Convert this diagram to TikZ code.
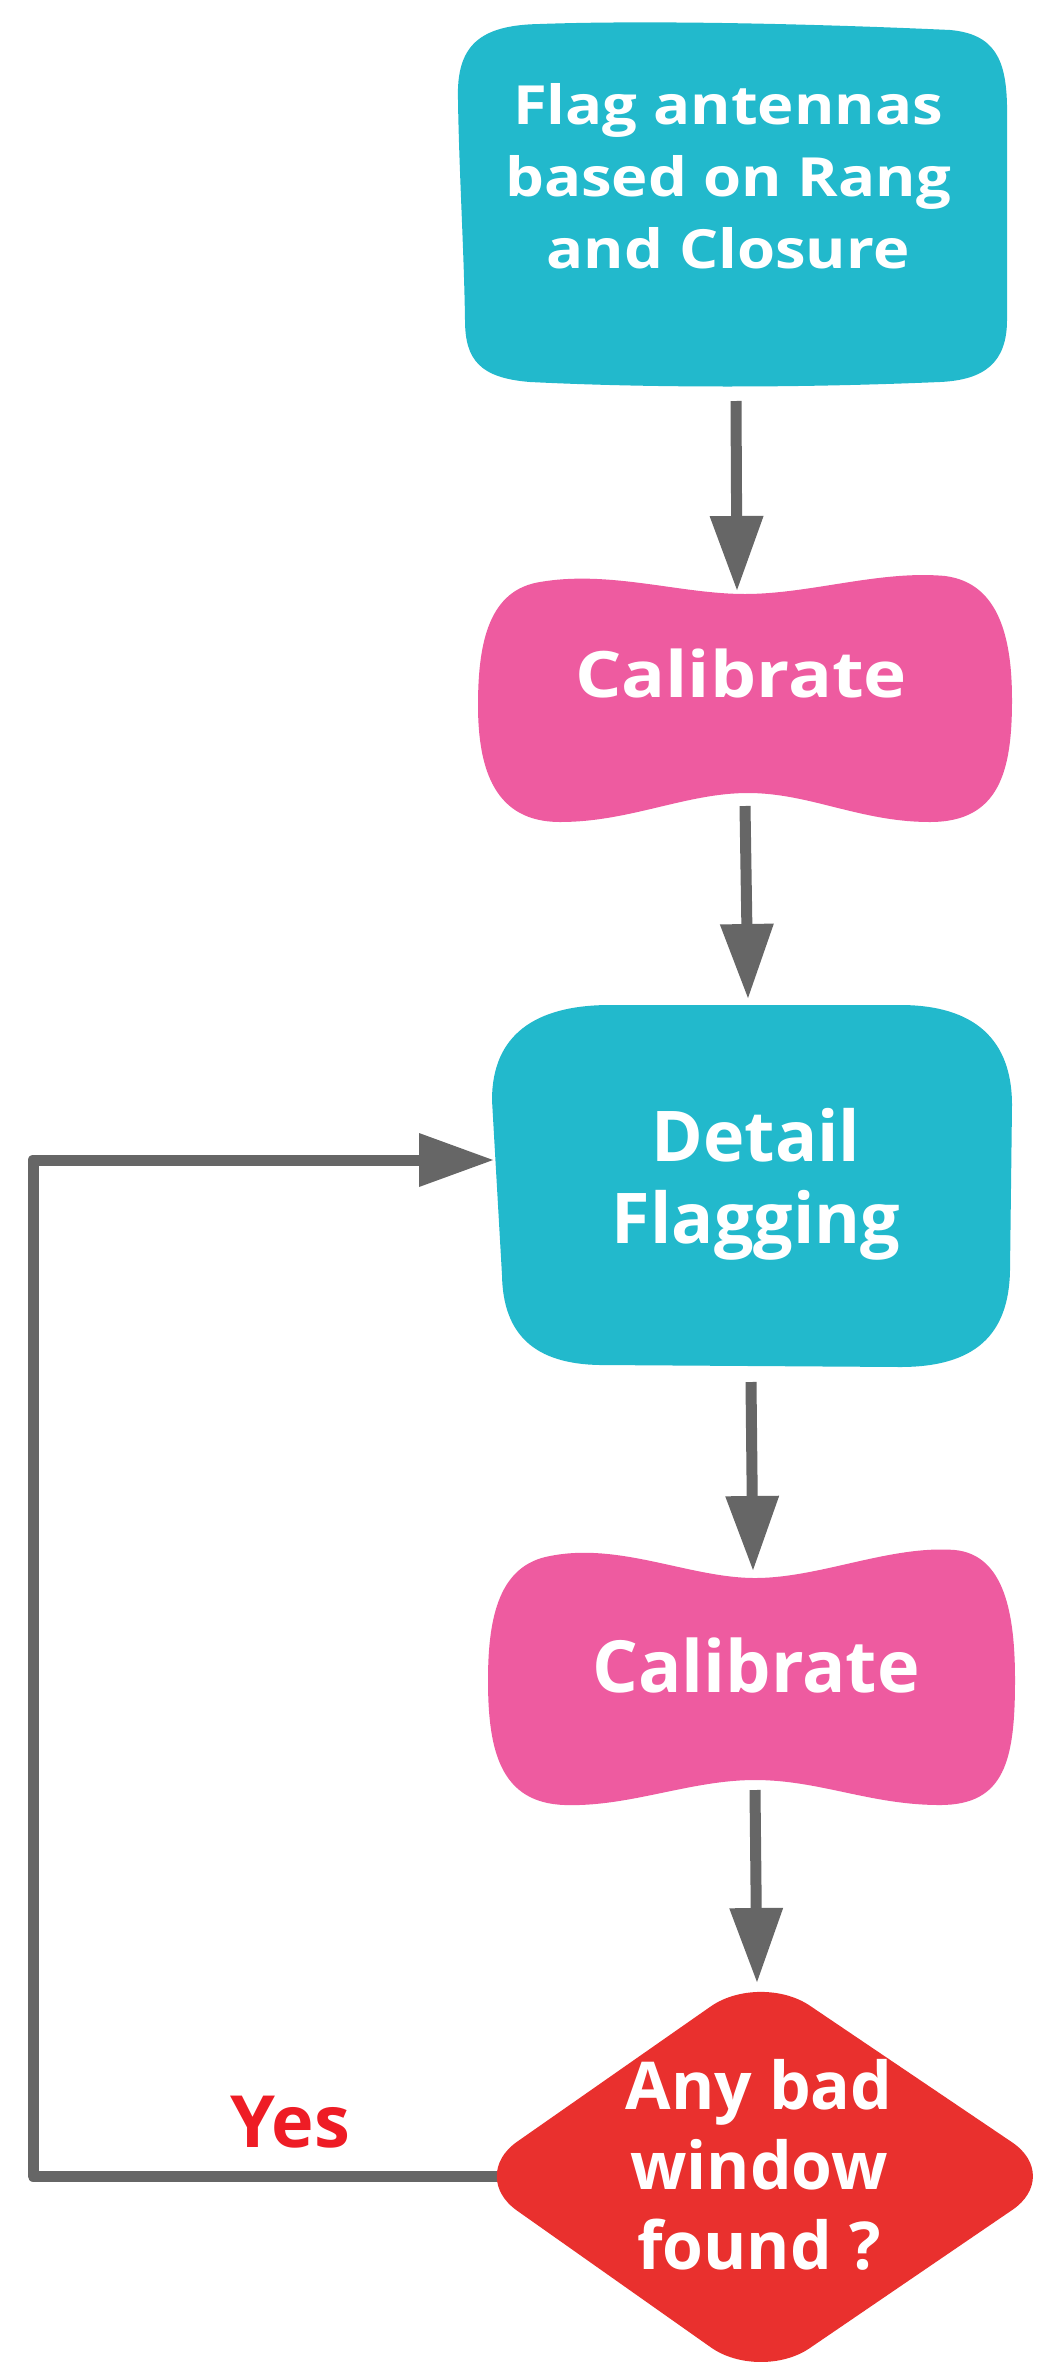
\documentclass[tikz,border=0pt]{standalone}
\usepackage{fontspec}
\setmainfont{Open Sans}
\newfontfamily\widefont[FakeStretch=1.14]{Open Sans}
\usetikzlibrary{arrows.meta}
\definecolor{boxcyan}{HTML}{22B9CC}
\definecolor{boxpink}{HTML}{EE5BA0}
\definecolor{boxred}{HTML}{E9302E}
\definecolor{linegray}{HTML}{666666}
\definecolor{yesred}{HTML}{EE1C25}
\begin{document}
\begin{tikzpicture}[x=1pt,y=-1pt,
  flow/.style={draw=linegray,line width=11pt,line join=round,
    -{Triangle[width=54pt,length=74pt,line width=0pt]}},
  boxtext/.style={text=white,inner sep=0pt,align=center},
  widetext/.style={boxtext,font={\widefont\bfseries\fontsize{#1}{72}\selectfont}},
  plaintext/.style={boxtext,font={\bfseries\fontsize{#1}{81}\selectfont}}]

% canvas
\fill[white] (0,0) rectangle (1042,2368);
\useasboundingbox (0,0) rectangle (1042,2368);
\clip (0,0) rectangle (1042,2368);

% connector end points on the shape outlines
\coordinate (b1-s) at (736,401);
\coordinate (c1-n) at (737,590);
\coordinate (c1-s) at (745,806);
\coordinate (df-n) at (748,998);
\coordinate (df-s) at (751,1382);
\coordinate (c2-n) at (753,1570);
\coordinate (c2-s) at (755,1790);
\coordinate (q-n)  at (757,1982);
\coordinate (q-w)  at (500,2176);
\coordinate (df-w) at (493,1160);
\coordinate (loop-bl) at (33,2176);
\coordinate (loop-tl) at (33,1160);

% feedback loop (drawn first, runs under the decision shape)
\draw[flow] (q-w) -- (loop-bl) -- (loop-tl) -- (df-w);

% first flagging step
\fill[boxcyan] (458,100) .. controls (456,45) and (480,25) .. (540,24)
  .. controls (650,20) and (820,24) .. (950,30)
  .. controls (995,34) and (1006,60) .. (1007,105)
  -- (1007,320) .. controls (1007,362) and (985,380) .. (940,382)
  .. controls (800,388) and (650,388) .. (530,382)
  .. controls (480,378) and (465,360) .. (465,320)
  .. controls (464,250) and (459,170) .. (458,100) -- cycle;

% first calibration
\fill[boxpink] (540,582) .. controls (610,570) and (680,594) .. (745,594)
  .. controls (810,594) and (880,570) .. (945,576)
  .. controls (1000,583) and (1012,640) .. (1012,700)
  .. controls (1012,770) and (1000,822) .. (930,822)
  .. controls (860,822) and (810,793) .. (748,793)
  .. controls (686,793) and (630,822) .. (560,822)
  .. controls (495,822) and (478,770) .. (478,705)
  .. controls (478,640) and (490,590) .. (540,582) -- cycle;

% detail flagging
\fill[boxcyan] (492,1100) .. controls (492,1035) and (535,1005) .. (610,1005)
  -- (900,1005) .. controls (975,1005) and (1012,1040) .. (1012,1105)
  -- (1010,1270) .. controls (1009,1335) and (975,1367) .. (900,1367)
  -- (600,1365) .. controls (535,1364) and (503,1335) .. (502,1275)
  -- cycle;

% second calibration
\fill[boxpink] (550,1556) .. controls (620,1542) and (690,1578) .. (755,1578)
  .. controls (820,1578) and (890,1545) .. (955,1550)
  .. controls (1005,1555) and (1015,1615) .. (1015,1680)
  .. controls (1015,1760) and (1005,1805) .. (940,1805)
  .. controls (870,1805) and (820,1780) .. (755,1780)
  .. controls (690,1780) and (630,1807) .. (565,1805)
  .. controls (500,1803) and (488,1750) .. (488,1680)
  .. controls (488,1615) and (500,1565) .. (550,1556) -- cycle;

% decision
\fill[boxred, rounded corners=60pt] (468,2176) -- (760,1972) -- (1062,2176)
  -- (760,2382) -- cycle;

% labels
\node[widetext=54] (t-flag) at (728,176)
  {Flag antennas\\based on Rang\\and Closure};
\node[widetext=64, anchor=base] (t-cal1) at (741,697) {Calibrate};
\node[plaintext=70, font={\bfseries\fontsize{70}{82}\selectfont}] (t-detail) at (756,1184)
  {Detail\\Flagging};
\node[plaintext=72, anchor=base] (t-cal2) at (756,1692) {Calibrate};
\node[plaintext=66, font={\bfseries\fontsize{66}{80}\selectfont}] (t-query) at (759,2165)
  {Any bad\\window\\found ?};
\node[plaintext=72, text=yesred, anchor=base] (t-yes) at (290,2147) {Yes};

% main flow
\draw[flow] (b1-s) -- (c1-n);
\draw[flow] (c1-s) -- (df-n);
\draw[flow] (df-s) -- (c2-n);
\draw[flow] (c2-s) -- (q-n);
\end{tikzpicture}
\end{document}
